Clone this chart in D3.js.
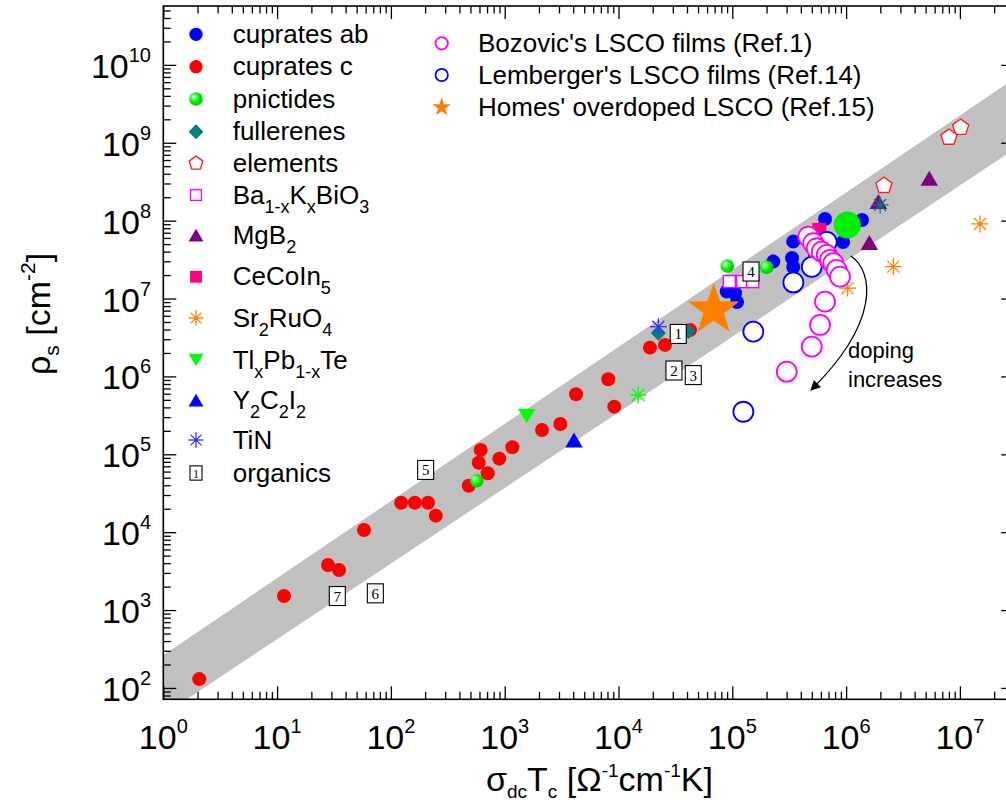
<!DOCTYPE html>
<html><head><meta charset="utf-8">
<script src="https://cdn.jsdelivr.net/npm/d3@7"></script>
<style>
body{margin:0;background:#fff}
svg{display:block}
text{font-family:"Liberation Sans",Arial,Helvetica,sans-serif;fill:#000}
</style>
</head><body>
<svg id="chart" width="1006" height="804"></svg>
<script>
// ---------------- DATA ----------------
const xTickValues = [1e0,1e1,1e2,1e3,1e4,1e5,1e6,1e7];
const xTickLabels = ["10^{0}","10^{1}","10^{2}","10^{3}","10^{4}","10^{5}","10^{6}","10^{7}"];
const yTickValues = [1e2,1e3,1e4,1e5,1e6,1e7,1e8,1e9,1e10];
const yTickLabels = ["10^{2}","10^{3}","10^{4}","10^{5}","10^{6}","10^{7}","10^{8}","10^{9}","10^{10}"];

// Homes' law band (upper and lower edges), [sigma_dc*Tc, rho_s]
const bandUpper = [[1,263],[3e7,6.64e9]];
const bandLower = [[1,45.2],[3e7,8.22e8]];

const cupratesC = [[2.07,130],[11.5,1514],[28,3785],[35,3266],[58,10670],[123,23900],[162,23900],[212,23900],[248,16300],[483,39500],[591,78000],[615,113800],[709,57000],[897,87900],[1167,123000],[2128,205000],[3083,245000],[4236,590000],[8130,920000],[9180,409000],[18900,2.34e6],[25600,2.54e6],[42500,3.95e6],[95800,1.63e7]];
const cupratesAB = [[89300,1.23e7],[105700,1.17e7],[110000,9.04e6],[229000,2.98e7],[343000,5.38e7],[335000,3.32e7],[343000,2.54e7],[653000,1.05e8],[1.38e6,1.02e8],[940000,5.32e7],[463000,5.65e7],[533000,3.63e7]];
const pnictides = [[568,45800],[90400,2.62e7],[200500,2.52e7],[151000,1.73e7]];
const pnictideLarge = [[1.025e6,8.81e7]];
const fullerenes = [[22400,3.58e6],[41100,3.76e6]];
const elements = [[1.016e7,1.57e9],[8.02e6,1.17e9],[2.15e6,2.82e8]];
const bkbo = [[94200,1.65e7],[123000,1.65e7],[151000,1.65e7]];
const mgb2 = [[5.38e6,3.51e8],[1.92e6,1.76e8],[1.60e6,5.23e7]];
const cecoin5 = [[582000,7.6e7]];
const sr2ruo4 = [[1.50e7,9.08e7],[2.60e6,2.57e7],[1.03e6,1.36e7]];
const tlpbte = [[1561,310000]];
const y2c2i2 = [[4064,152700]];
const tin = [[22400,4.35e6]];
const otherGreenAsterisk = [[14900,578000]];
const otherTealAsterisk = [[1.99e6,1.59e8]];
const organicsNum = [1,2,3,4,5,6,7];
const organicsX = [33500,30700,45400,146000,202,73,33.8];
const organicsY = [3.51e6,1.19e6,1.04e6,2.22e7,63000,1640,1514];
const bozovic = [[465000,6.24e7],[515000,5.13e7],[552000,4.42e7],[611000,4.0e7],[676000,3.63e7],[722000,3.13e7],[772000,2.84e7],[826000,2.33e7],[884000,1.91e7],[653000,9.12e6],[590000,4.58e6],[499000,2.41e6],[301000,1.15e6]];
const lemberger = [[344000,1.61e7],[499000,2.55e7],[676000,5.33e7],[153000,3.76e6],[125000,352000]];
const homes = [[68700,7.14e6]];

const legendLeft = ["cuprates ab","cuprates c","pnictides","fullerenes","elements","Ba_{1-x}K_{x}BiO_{3}","MgB_{2}","CeCoIn_{5}","Sr_{2}RuO_{4}","Tl_{x}Pb_{1-x}Te","Y_{2}C_{2}I_{2}","TiN","organics"];
const legendLeftSym = ["circleBlue","circleRed","ball","diamond","pentagon","openSquare","triUp","pinkSquare","astOrange","triDown","triUpBlue","astBlue","box"];
const legendRight = ["Bozovic's LSCO films (Ref.1)","Lemberger's LSCO films (Ref.14)","Homes' overdoped LSCO (Ref.15)"];
const legendRightSym = ["openPink","openBlue","star"];
const xTitle = "σ_{dc}T_{c} [Ω^{-1}cm^{-1}K]";
const yTitle = "ρ_{s} [cm^{-2}]";
const annotation = ["doping","increases"];

// ---------------- LAYOUT ----------------
const L = 163.3, R = 1014.2, T = 6, B = 699.3;
const x = d3.scaleLog().domain([1,3e7]).range([L,R]);
const y = d3.scaleLog().domain([71.5,5.7e10]).range([B,T]);

const svg = d3.select("#chart");
const defs = svg.append("defs");
defs.append("clipPath").attr("id","plotclip").append("rect")
  .attr("x",L).attr("y",T).attr("width",R-L).attr("height",B-T);
const grad = defs.append("radialGradient").attr("id","ballGrad")
  .attr("cx","40%").attr("cy","40%").attr("r","60%").attr("fx","35%").attr("fy","35%");
grad.append("stop").attr("offset","0%").attr("stop-color","#ffffff");
grad.append("stop").attr("offset","28%").attr("stop-color","#66ff66");
grad.append("stop").attr("offset","60%").attr("stop-color","#00f000");
grad.append("stop").attr("offset","100%").attr("stop-color","#00c800");

// rich text helper: _{sub} ^{sup}
function rich(sel, str, fs, sfs, subDy, supDy){
  const re = /([_^])\{([^}]*)\}|([^_^]+)/g;
  let m, cur = 0;
  while((m = re.exec(str))){
    if(m[3] !== undefined){
      sel.append("tspan").attr("dy", -cur).attr("font-size", fs).text(m[3]); cur = 0;
    } else {
      const d = m[1] === "_" ? subDy : -supDy;
      sel.append("tspan").attr("dy", d - cur).attr("font-size", sfs).text(m[2]); cur = d;
    }
  }
}

// band
const plot = svg.append("g").attr("clip-path","url(#plotclip)");
const bandPts = bandUpper.concat(bandLower.slice().reverse());
plot.append("path")
  .attr("d", d3.line().x(d=>x(d[0])).y(d=>y(d[1]))(bandPts) + "Z")
  .attr("fill","#c0c0c0");

// symbol painters
function pentagonPath(r){
  const p=[]; for(let i=0;i<5;i++){const a=-Math.PI/2+i*2*Math.PI/5; p.push([r*Math.cos(a), r*Math.sin(a)]);}
  return "M"+p.map(q=>q.join(",")).join("L")+"Z";
}
function starPath(R0){
  const r0 = R0*0.4; const p=[];
  for(let i=0;i<10;i++){const a=-Math.PI/2+i*Math.PI/5; const rr=i%2?r0:R0; p.push([rr*Math.cos(a), rr*Math.sin(a)]);}
  return "M"+p.map(q=>q.join(",")).join("L")+"Z";
}
function triPath(w,h,down){
  return down ? `M${-w/2},${-h/2}L${w/2},${-h/2}L0,${h/2}Z` : `M${-w/2},${h/2}L${w/2},${h/2}L0,${-h/2}Z`;
}
function asterisk(g, r, color, dot){
  for(let i=0;i<4;i++){
    const a=i*Math.PI/4;
    g.append("line").attr("x1",-r*Math.cos(a)).attr("y1",-r*Math.sin(a))
      .attr("x2",r*Math.cos(a)).attr("y2",r*Math.sin(a))
      .attr("stroke",color).attr("stroke-width",1.3);
  }
  if(dot) g.append("circle").attr("r",1.8).attr("fill",color);
}
function drawSym(g, type, s){
  switch(type){
    case "circleBlue": g.append("circle").attr("r",7*s).attr("fill","#0000ff"); break;
    case "circleRed": g.append("circle").attr("r",7*s).attr("fill","#ff0000"); break;
    case "ball": g.append("circle").attr("r",6.8*s).attr("fill","url(#ballGrad)"); break;
    case "diamond": g.append("path").attr("d",`M0,${-7.5*s}L${7.5*s},0L0,${7.5*s}L${-7.5*s},0Z`).attr("fill","#008080"); break;
    case "pentagon": g.append("path").attr("d",pentagonPath(8.5*s)).attr("fill","#fff").attr("stroke","#ff2020").attr("stroke-width",1.4); break;
    case "openSquare": g.append("rect").attr("x",-6*s).attr("y",-6*s).attr("width",12*s).attr("height",12*s).attr("fill","#fff").attr("stroke","#ff00ff").attr("stroke-width",1.4); break;
    case "triUp": g.append("path").attr("d",triPath(17.5*s,15*s,false)).attr("fill","#800080"); break;
    case "triUpBlue": g.append("path").attr("d",triPath(17.5*s,15*s,false)).attr("fill","#0000ff"); break;
    case "triDown": g.append("path").attr("d",triPath(17.5*s,14.5*s,true)).attr("fill","#00ff00"); break;
    case "pinkSquare": g.append("rect").attr("x",-7*s).attr("y",-7*s).attr("width",14*s).attr("height",14*s).attr("fill","#ff0080"); break;
    case "astOrange": asterisk(g,8.5*s,"#ff8000",true); break;
    case "astBlue": asterisk(g,8.5*s,"#3333ff",true); break;
    case "astGreen": asterisk(g,8.5*s,"#00ff00",true); break;
    case "astTeal": asterisk(g,8.5*s,"#008080",true); break;
    case "openPink": g.append("circle").attr("r",10*s).attr("fill","#fff").attr("stroke","#ff00ff").attr("stroke-width",1.8); break;
    case "openBlue": g.append("circle").attr("r",10*s).attr("fill","#fff").attr("stroke","#0000ff").attr("stroke-width",1.8); break;
    case "star": g.append("path").attr("d",starPath(27*s)).attr("fill","#ff8000"); break;
    case "bigGreen": g.append("circle").attr("r",13.5).attr("fill","#00ee00"); break;
    case "box": {
      g.append("rect").attr("x",-8*s).attr("y",-9.5*s).attr("width",16*s).attr("height",19*s)
        .attr("fill","#fff").attr("stroke","#000").attr("stroke-width",1.1);
    } break;
  }
}
function series(data, type){
  plot.append("g").selectAll("g").data(data).enter().append("g")
    .attr("transform", d=>`translate(${x(d[0])},${y(d[1])})`)
    .each(function(){ drawSym(d3.select(this), type, 1); });
}

series(cupratesC,"circleRed");
series(cupratesAB,"circleBlue");
series(cecoin5,"pinkSquare");
series(pnictides,"ball");
series(fullerenes,"diamond");
series(tin,"astBlue");
series(otherGreenAsterisk,"astGreen");
series(bkbo,"openSquare");
series(elements,"pentagon");
series(mgb2,"triUp");
series(otherTealAsterisk,"astTeal");
series(sr2ruo4,"astOrange");
series(tlpbte,"triDown");
series(y2c2i2,"triUpBlue");
series(homes,"star");
series(lemberger,"openBlue");
series(bozovic,"openPink");
series(pnictideLarge,"bigGreen");

// organics boxes
const orgG = plot.append("g").selectAll("g").data(organicsNum).enter().append("g")
  .attr("transform",(d,i)=>`translate(${x(organicsX[i])},${y(organicsY[i])})`);
orgG.each(function(){ drawSym(d3.select(this),"box",1); });
orgG.append("text").attr("text-anchor","middle").attr("y",5.5)
  .style("font-family","'Liberation Serif','DejaVu Serif',serif").attr("font-size",15).text(d=>d);

// annotation arrow
defs.append("marker").attr("id","arrowHead").attr("viewBox","0 0 10 10").attr("refX",9).attr("refY",5)
  .attr("markerWidth",14).attr("markerHeight",10).attr("markerUnits","userSpaceOnUse").attr("orient","auto")
  .append("path").attr("d","M0,0L10,5L0,10Z").attr("fill","#000");
svg.append("path").attr("d","M851,256 C874,272 880,322 811,390")
  .attr("fill","none").attr("stroke","#000").attr("stroke-width",1.3).attr("marker-end","url(#arrowHead)");
svg.append("text").attr("x",848).attr("y",358).attr("font-size",22).text(annotation[0]);
svg.append("text").attr("x",848).attr("y",387).attr("font-size",22).text(annotation[1]);

// axes ticks (inward)
function minorTicks(dom){
  const out=[]; const lo=Math.floor(Math.log10(dom[0])), hi=Math.ceil(Math.log10(dom[1]));
  for(let e=lo;e<=hi;e++) for(let k=2;k<=9;k++){const v=k*Math.pow(10,e); if(v>=dom[0]&&v<=dom[1]) out.push(v);}
  return out;
}
const xMinor = minorTicks(x.domain()), yMinor = minorTicks(y.domain());
function addAxis(axisFn, scale, vals, size, tr){
  const g = svg.append("g").attr("transform",tr)
    .call(axisFn(scale).tickValues(vals).tickSize(size).tickFormat(""));
  g.select(".domain").remove();
  g.selectAll("line").attr("stroke","#000").attr("stroke-width",1.3);
}
addAxis(d3.axisBottom, x, xTickValues, -13, `translate(0,${B})`);
addAxis(d3.axisBottom, x, xMinor, -7.5, `translate(0,${B})`);
addAxis(d3.axisTop, x, xTickValues, -13, `translate(0,${T})`);
addAxis(d3.axisTop, x, xMinor, -7.5, `translate(0,${T})`);
addAxis(d3.axisLeft, y, yTickValues, -13, `translate(${L},0)`);
addAxis(d3.axisLeft, y, yMinor, -7.5, `translate(${L},0)`);
addAxis(d3.axisRight, y, yTickValues, -13, `translate(${R},0)`);
addAxis(d3.axisRight, y, yMinor, -7.5, `translate(${R},0)`);

// frame
svg.append("rect").attr("x",L).attr("y",T).attr("width",R-L).attr("height",B-T)
  .attr("fill","none").attr("stroke","#000").attr("stroke-width",1.6);

// tick labels
xTickValues.forEach((v,i)=>{
  const t = svg.append("text").attr("x",x(v)).attr("y",748.5).attr("text-anchor","middle");
  rich(t, xTickLabels[i], 34, 20, 0, 16);
});
yTickValues.forEach((v,i)=>{
  const t = svg.append("text").attr("x",151).attr("y",y(v)+13).attr("text-anchor","end");
  rich(t, yTickLabels[i], 34, 20, 0, 16);
});

// axis titles
const xt = svg.append("text").attr("x",486).attr("y",791);
rich(xt, xTitle, 34, 19, 7, 14);
const yt = svg.append("text").attr("transform","translate(50,314) rotate(-90)").attr("text-anchor","middle");
rich(yt, yTitle, 34, 21, 9, 15);

// left legend
const leftRowY = [34.3,66.7,99,131.7,163.3,195,235,276.7,318,360,400,440,473];
const legendScale = {circleBlue:0.95,circleRed:0.95,ball:1,diamond:1,pentagon:0.85,openSquare:0.9,triUp:0.85,pinkSquare:0.85,astOrange:0.9,triDown:0.85,triUpBlue:0.85,astBlue:0.9,box:0.75};
legendLeft.forEach((lab,i)=>{
  const g = svg.append("g").attr("transform",`translate(196,${leftRowY[i]})`);
  drawSym(g, legendLeftSym[i], legendScale[legendLeftSym[i]]);
  if(legendLeftSym[i]==="box"){
    g.append("text").attr("text-anchor","middle").attr("y",4.5)
      .style("font-family","'Liberation Serif','DejaVu Serif',serif").attr("font-size",12).text("1");
  }
  const t = svg.append("text").attr("x",232.7).attr("y",leftRowY[i]+8.5);
  rich(t, lab, 26, 18, 9, 12);
});
// right legend
const rightRowY = [43.3,75,107.3];
legendRight.forEach((lab,i)=>{
  const g = svg.append("g").attr("transform",`translate(441.7,${rightRowY[i]})`);
  drawSym(g, legendRightSym[i], legendRightSym[i]==="star"?0.36:0.62);
  const t = svg.append("text").attr("x",478).attr("y",rightRowY[i]+8.5);
  rich(t, lab, 26, 18, 9, 12);
});
</script>
</body></html>
